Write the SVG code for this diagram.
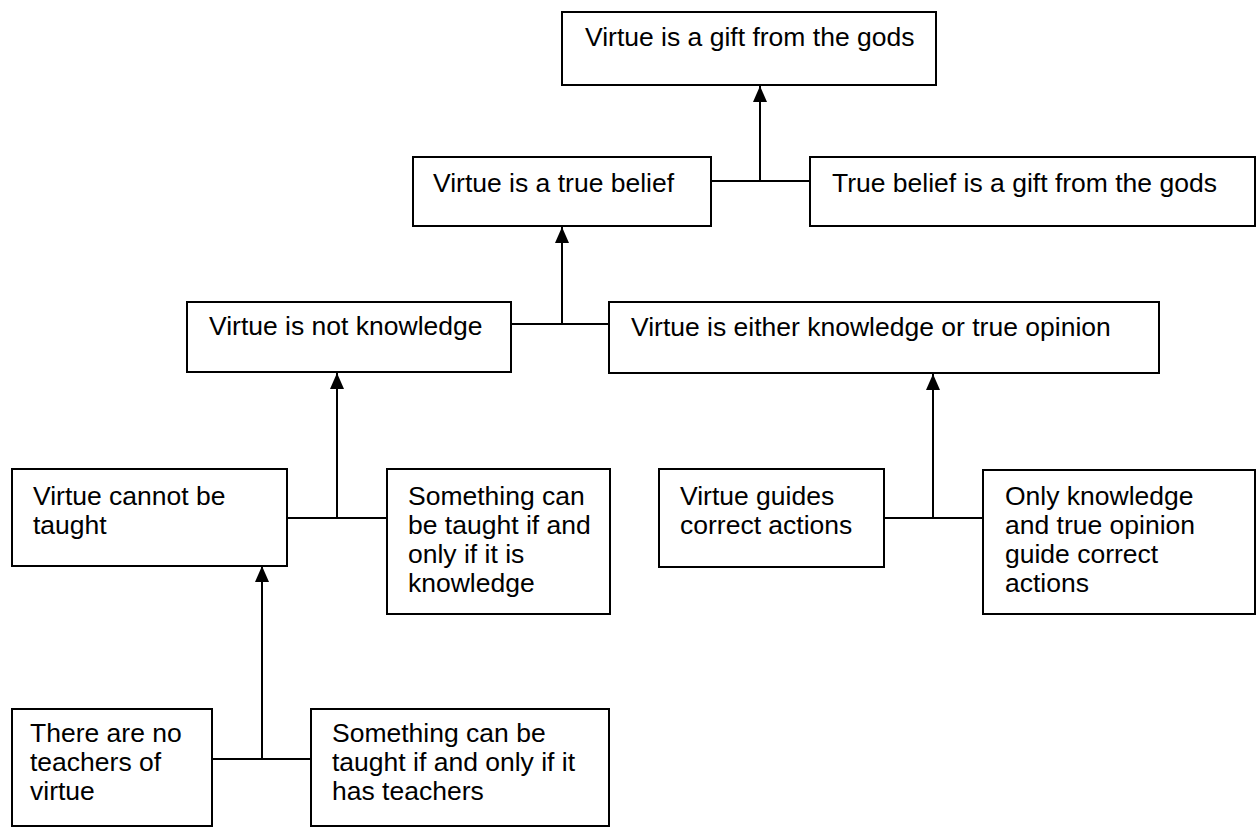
<svg xmlns="http://www.w3.org/2000/svg" width="1257" height="831" viewBox="0 0 1257 831">
<style>
.box{fill:#fff;stroke:#000;stroke-width:2}
.t{font-family:"Liberation Sans",Arial,sans-serif;font-size:26.5px;fill:#000}
.c{fill:none;stroke:#000;stroke-width:2}
</style>
<defs>
<marker id="ah" markerUnits="userSpaceOnUse" markerWidth="16" markerHeight="18" refX="16" refY="7" orient="auto" viewBox="0 0 16 14">
<path d="M0,0 L16,7 L0,14 Z" fill="#000"/>
</marker>
</defs>
<g id="connectors">
<path class="c" d="M711,181 H810 M760,181 V86" marker-end="url(#ah)"/>
<path class="c" d="M511,324 H611 M562,324 V227" marker-end="url(#ah)"/>
<path class="c" d="M287,518 H387 M337,518 V373" marker-end="url(#ah)"/>
<path class="c" d="M884,518 H983 M933,518 V374" marker-end="url(#ah)"/>
<path class="c" d="M212,759 H311 M262,759 V566" marker-end="url(#ah)"/>
</g>
<g id="n1"><rect class="box" x="562" y="12" width="374" height="73"/><text class="t" x="585" y="46">Virtue is a gift from the gods</text></g>
<g id="n2"><rect class="box" x="413" y="157" width="298" height="69"/><text class="t" x="433" y="192">Virtue is a true belief</text></g>
<g id="n3"><rect class="box" x="810" y="157" width="445" height="69"/><text class="t" x="832" y="192">True belief is a gift from the gods</text></g>
<g id="n4"><rect class="box" x="187" y="302" width="324" height="70"/><text class="t" x="209" y="335">Virtue is not knowledge</text></g>
<g id="n5"><rect class="box" x="609" y="302" width="550" height="71"/><text class="t" x="631" y="336">Virtue is either knowledge or true opinion</text></g>
<g id="n6"><rect class="box" x="12" y="469" width="275" height="97"/><text class="t" x="33" y="505">Virtue cannot be<tspan x="33" y="534">taught</tspan></text></g>
<g id="n7"><rect class="box" x="387" y="469" width="223" height="145"/><text class="t" x="408" y="505">Something can<tspan x="408" y="534">be taught if and</tspan><tspan x="408" y="563">only if it is</tspan><tspan x="408" y="592">knowledge</tspan></text></g>
<g id="n8"><rect class="box" x="659" y="469" width="225" height="98"/><text class="t" x="680" y="505">Virtue guides<tspan x="680" y="534">correct actions</tspan></text></g>
<g id="n9"><rect class="box" x="983" y="470" width="272" height="144"/><text class="t" x="1005" y="505">Only knowledge<tspan x="1005" y="534">and true opinion</tspan><tspan x="1005" y="563">guide correct</tspan><tspan x="1005" y="592">actions</tspan></text></g>
<g id="n10"><rect class="box" x="12" y="709" width="200" height="117"/><text class="t" x="30" y="742">There are no<tspan x="30" y="771">teachers of</tspan><tspan x="30" y="800">virtue</tspan></text></g>
<g id="n11"><rect class="box" x="311" y="709" width="298" height="117"/><text class="t" x="332" y="742">Something can be<tspan x="332" y="771">taught if and only if it</tspan><tspan x="332" y="800">has teachers</tspan></text></g>
</svg>
